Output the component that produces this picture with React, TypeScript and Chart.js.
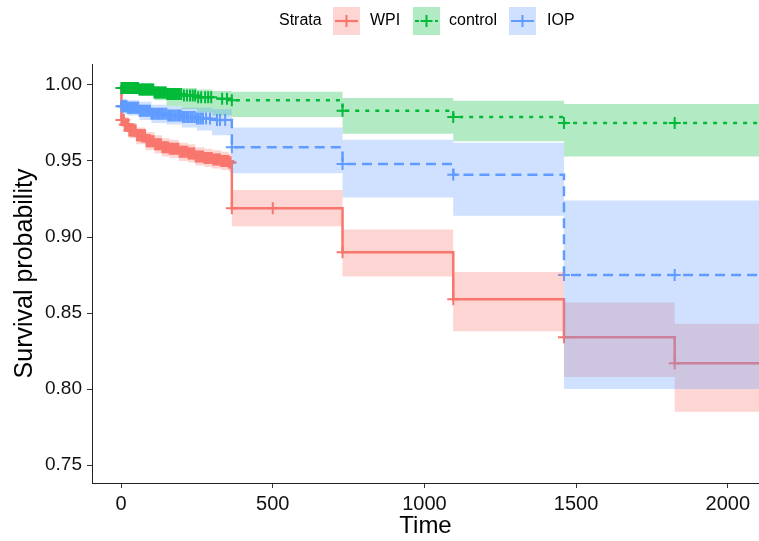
import React, { useEffect, useRef } from 'react';
import { Chart, registerables } from 'chart.js';

Chart.register(...registerables);

// ---------- data ----------
const LEGEND_TITLE = 'Strata';
const STRATA = ['WPI', 'control', 'IOP'];
const X_TITLE = 'Time';
const Y_TITLE = 'Survival probability';
const X_TICKS = [0, 500, 1000, 1500, 2000];
const Y_TICKS = [0.75, 0.8, 0.85, 0.9, 0.95, 1.0];
const END_TIME = 2110;

// WPI
const WPI_TIME = [0, 1, 10, 25, 50, 80, 110, 135, 160, 190, 220, 245, 275, 300, 330, 355, 365, 730, 1095, 1460, 1825];
const WPI_SURV = [1, 0.977, 0.974, 0.970, 0.967, 0.963, 0.961, 0.959, 0.958, 0.956, 0.955, 0.953, 0.952, 0.951, 0.950, 0.949, 0.919, 0.890, 0.859, 0.834, 0.817];
const WPI_UPPER = [1, 0.982, 0.979, 0.975, 0.972, 0.969, 0.967, 0.965, 0.964, 0.962, 0.961, 0.959, 0.958, 0.957, 0.956, 0.955, 0.931, 0.905, 0.877, 0.857, 0.843];
const WPI_LOWER = [1, 0.972, 0.969, 0.965, 0.961, 0.957, 0.955, 0.953, 0.952, 0.950, 0.949, 0.947, 0.946, 0.945, 0.944, 0.943, 0.907, 0.874, 0.838, 0.808, 0.785];
const WPI_CENSOR = [1, 3, 6, 9, 12, 16, 20, 24, 27, 31, 35, 40, 44, 48, 52, 57, 61, 66, 70, 75, 79, 84, 88, 93, 98, 103, 107, 112, 117, 122, 126, 131, 136, 141, 145, 150, 155, 160, 165, 170, 174, 179, 184, 189, 193, 198, 203, 208, 213, 218, 222, 227, 232, 237, 241, 246, 251, 256, 261, 266, 270, 275, 280, 285, 289, 294, 299, 304, 308, 313, 318, 322, 326, 330, 334, 337, 340, 343, 347, 350, 353, 356, 359, 361, 365, 500, 730, 1095, 1460, 1825];

// control
const CTRL_TIME = [0, 1, 60, 110, 150, 200, 250, 300, 365, 730, 1095, 1460];
const CTRL_SURV = [1, 0.998, 0.997, 0.995, 0.994, 0.993, 0.992, 0.991, 0.990, 0.983, 0.979, 0.975];
const CTRL_UPPER = [1, 1, 1, 0.999, 0.998, 0.998, 0.997, 0.996, 0.9956, 0.9914, 0.9897, 0.9875];
const CTRL_LOWER = [1, 0.995, 0.993, 0.990, 0.986, 0.984, 0.982, 0.980, 0.979, 0.968, 0.963, 0.953];
const CTRL_CENSOR = [1, 4, 8, 11, 14, 17, 20, 24, 27, 30, 33, 37, 40, 43, 46, 50, 53, 56, 60, 64, 68, 72, 75, 79, 83, 87, 90, 94, 98, 102, 106, 110, 114, 118, 122, 126, 130, 134, 139, 143, 147, 152, 156, 160, 165, 169, 174, 178, 183, 188, 192, 198, 207, 217, 227, 236, 244, 254, 264, 277, 287, 297, 333, 349, 365, 730, 1095, 1460, 1825];

// IOP
const IOP_TIME = [0, 1, 20, 60, 100, 150, 200, 250, 300, 365, 730, 1095, 1460];
const IOP_SURV = [1, 0.986, 0.985, 0.983, 0.981, 0.980, 0.979, 0.978, 0.977, 0.959, 0.948, 0.941, 0.875];
const IOP_UPPER = [1, 0.991, 0.990, 0.989, 0.987, 0.986, 0.985, 0.985, 0.984, 0.972, 0.964, 0.962, 0.924];
const IOP_LOWER = [1, 0.981, 0.980, 0.977, 0.975, 0.974, 0.972, 0.970, 0.967, 0.942, 0.926, 0.914, 0.800];
const IOP_CENSOR = [1, 4, 7, 10, 14, 18, 22, 26, 30, 34, 38, 43, 47, 52, 56, 61, 65, 70, 75, 80, 85, 90, 95, 100, 105, 110, 116, 121, 126, 132, 137, 143, 149, 155, 161, 167, 173, 179, 185, 191, 197, 204, 210, 217, 223, 230, 236, 243, 250, 256, 263, 270, 280, 293, 316, 326, 343, 365, 730, 1095, 1460, 1825];

// ---------- styles ----------
const FONT = '"Liberation Sans", Arial, Helvetica, sans-serif';
const COLORS = ['#F8766D', '#00BA38', '#619CFF'];
const FILLS = ['rgba(248,118,109,0.3)', 'rgba(0,186,56,0.3)', 'rgba(97,156,255,0.3)'];
const DASHES: number[][] = [[], [4, 6], [10, 6]];

const X_MIN = -96;
const X_MAX = 2103;
const Y_MIN = 0.7382;
const Y_MAX = 1.0138;

function stepPoints(times: number[], vals: number[]) {
  const pts = times.map((t, i) => ({ x: t, y: vals[i] }));
  pts.push({ x: END_TIME, y: vals[vals.length - 1] });
  return pts;
}

function survAt(times: number[], surv: number[], t: number) {
  let v = surv[0];
  for (let i = 0; i < times.length; i++) {
    if (times[i] <= t) v = surv[i];
  }
  return v;
}

const legendPlugin = {
  id: 'strataLegend',
  afterDraw(chart: any) {
    const ctx = chart.ctx as CanvasRenderingContext2D;
    ctx.save();
    ctx.font = `16px ${FONT}`;
    ctx.fillStyle = '#000';
    ctx.textBaseline = 'middle';
    ctx.textAlign = 'left';
    const cy = 21;
    ctx.fillText(LEGEND_TITLE, 279, cy);
    const keyX = [333, 413, 509];
    const textX = [370, 449, 547];
    STRATA.forEach((name, i) => {
      const kx = keyX[i];
      ctx.fillStyle = FILLS[i];
      ctx.fillRect(kx, 7, 27, 28);
      ctx.strokeStyle = COLORS[i];
      ctx.lineWidth = 2.2;
      ctx.setLineDash(DASHES[i]);
      ctx.beginPath();
      ctx.moveTo(kx + 2, cy);
      ctx.lineTo(kx + 25, cy);
      ctx.stroke();
      ctx.setLineDash([]);
      ctx.lineWidth = 2;
      ctx.beginPath();
      ctx.moveTo(kx + 13.5 - 6, cy);
      ctx.lineTo(kx + 13.5 + 6, cy);
      ctx.moveTo(kx + 13.5, cy - 6);
      ctx.lineTo(kx + 13.5, cy + 6);
      ctx.stroke();
      ctx.fillStyle = '#000';
      ctx.fillText(name, textX[i], cy);
    });
    ctx.restore();
  },
};

export default function App() {
  const ref = useRef<HTMLCanvasElement | null>(null);

  useEffect(() => {
    if (!ref.current) return;
    const groups = [
      { t: WPI_TIME, s: WPI_SURV, u: WPI_UPPER, l: WPI_LOWER, c: WPI_CENSOR },
      { t: CTRL_TIME, s: CTRL_SURV, u: CTRL_UPPER, l: CTRL_LOWER, c: CTRL_CENSOR },
      { t: IOP_TIME, s: IOP_SURV, u: IOP_UPPER, l: IOP_LOWER, c: IOP_CENSOR },
    ];
    const datasets: any[] = [];
    groups.forEach((g, i) => {
      datasets.push({
        label: STRATA[i],
        data: stepPoints(g.t, g.s),
        stepped: 'before',
        borderColor: COLORS[i],
        borderWidth: 2.5,
        borderDash: DASHES[i],
        pointRadius: 0,
        fill: false,
        order: 10,
      });
      datasets.push({
        label: STRATA[i] + ' censor',
        data: g.c.map((t) => ({ x: t, y: survAt(g.t, g.s, t) })),
        showLine: false,
        pointStyle: 'cross',
        pointRadius: 6,
        pointBorderWidth: 2,
        pointBorderColor: COLORS[i],
        pointBackgroundColor: COLORS[i],
        order: 5,
      });
    });
    groups.forEach((g, i) => {
      datasets.push({
        label: STRATA[i] + ' upper',
        data: stepPoints(g.t, g.u),
        stepped: 'before',
        borderWidth: 0,
        borderColor: 'rgba(0,0,0,0)',
        pointRadius: 0,
        backgroundColor: FILLS[i],
        fill: '+1',
        order: 3 - i,
      });
      datasets.push({
        label: STRATA[i] + ' lower',
        data: stepPoints(g.t, g.l),
        stepped: 'before',
        borderWidth: 0,
        borderColor: 'rgba(0,0,0,0)',
        pointRadius: 0,
        fill: false,
        order: 3 - i,
      });
    });

    const chart = new Chart(ref.current, {
      type: 'line',
      data: { datasets },
      plugins: [legendPlugin],
      options: {
        animation: false,
        responsive: false,
        devicePixelRatio: 1,
        layout: { autoPadding: false, padding: { top: 64, left: 0, right: 0, bottom: 0 } },
        plugins: {
          legend: { display: false },
          tooltip: { enabled: false },
        },
        scales: {
          x: {
            type: 'linear',
            min: X_MIN,
            max: X_MAX,
            afterBuildTicks: (s: any) => {
              s.ticks = X_TICKS.map((v) => ({ value: v }));
            },
            ticks: {
              maxRotation: 0,
              autoSkip: false,
              padding: 4,
              color: '#111',
              font: { family: FONT, size: 20 },
              callback: (v: any) => String(Math.round(Number(v))),
            },
            grid: { drawOnChartArea: false, drawTicks: true, tickLength: 5, color: '#333', tickWidth: 1 },
            border: { display: true, color: '#222', width: 1 },
            title: { display: true, text: X_TITLE, color: '#000', padding: 0, font: { family: FONT, size: 24 } },
            afterFit: (s: any) => {
              s.height = 58;
              s.paddingLeft = 0;
              s.paddingRight = 0;
            },
          },
          y: {
            type: 'linear',
            min: Y_MIN,
            max: Y_MAX,
            afterBuildTicks: (s: any) => {
              s.ticks = Y_TICKS.map((v) => ({ value: v }));
            },
            ticks: {
              autoSkip: false,
              padding: 5,
              color: '#111',
              font: { family: FONT, size: 19 },
              callback: (v: any) => Number(v).toFixed(2),
            },
            grid: { drawOnChartArea: false, drawTicks: true, tickLength: 5, color: '#333', tickWidth: 1 },
            border: { display: true, color: '#222', width: 1 },
            title: { display: true, text: Y_TITLE, color: '#000', padding: { top: 10, bottom: 0 }, font: { family: FONT, size: 25 } },
            afterFit: (s: any) => {
              s.width = 92;
              s.paddingTop = 0;
              s.paddingBottom = 0;
            },
          },
        },
      } as any,
    });
    return () => chart.destroy();
  }, []);

  return (
    <div style={{ position: 'absolute', left: 0, top: 0, width: 759, height: 541, background: '#fff' }}>
      <canvas ref={ref} width={759} height={541} style={{ display: 'block' }} />
    </div>
  );
}
